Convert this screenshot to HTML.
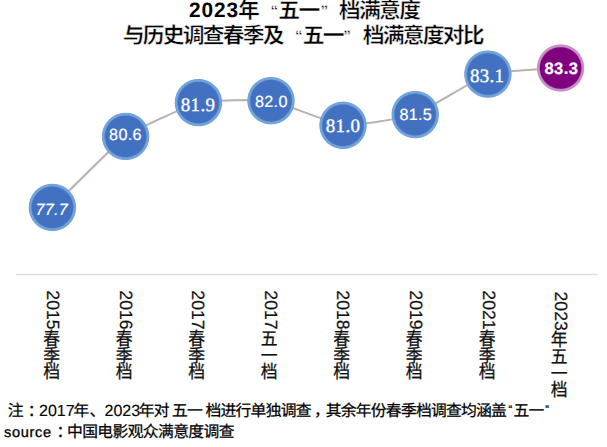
<!DOCTYPE html>
<html lang="zh-CN">
<head>
<meta charset="utf-8">
<title>2023年“五一”档满意度</title>
<style>
html,body{margin:0;padding:0;background:#fff;}
body{width:607px;height:447px;overflow:hidden;position:relative;font-family:"Liberation Sans","Noto Sans CJK SC",sans-serif;}
svg{position:absolute;left:0;top:0;display:block;}
svg text{font-family:"Liberation Sans","Noto Sans CJK SC",sans-serif;text-rendering:geometricPrecision;}
svg text.ser{font-family:"Liberation Serif","Noto Serif CJK SC",serif;}
.sr{position:absolute;left:0;top:0;width:1px;height:1px;overflow:hidden;clip-path:inset(50%);white-space:nowrap;color:transparent;font-size:1px;}
</style>
</head>
<body>
<div class="sr">2023年“五一”档满意度<br>与历史调查春季及“五一”档满意度对比<br>2015春季档<br>2016春季档<br>2017春季档<br>2017五一档<br>2018春季档<br>2019春季档<br>2021春季档<br>2023年五一档<br>注：2017年、2023年对五一档进行单独调查，其余年份春季档调查均涵盖“五一”<br>source：中国电影观众满意度调查</div>
<svg width="607" height="447" viewBox="0 0 607 447">
<defs><radialGradient id="gb" cx="0.5" cy="0.5" r="0.5"><stop offset="0.835" stop-color="#4371C2"/><stop offset="0.888" stop-color="#72A3DA"/><stop offset="0.959" stop-color="#72A3DA"/><stop offset="1" stop-color="#72A3DA" stop-opacity="0"/></radialGradient><radialGradient id="gp" cx="0.5" cy="0.5" r="0.5"><stop offset="0.835" stop-color="#800080"/><stop offset="0.888" stop-color="#C493C4"/><stop offset="0.959" stop-color="#C493C4"/><stop offset="1" stop-color="#C493C4" stop-opacity="0"/></radialGradient></defs>
<line x1="16" y1="274.5" x2="597.4" y2="274.5" stroke="#E0DCDA" stroke-width="1.5"/>
<path d="M52.40 207.40C56.79 203.14 116.84 142.69 125.60 136.40C134.36 130.11 189.68 104.74 198.40 102.60C207.12 100.46 262.32 99.34 271.00 100.70C279.68 102.06 334.35 124.47 343.00 125.30C351.65 126.13 406.51 117.67 415.20 114.60C423.89 111.53 479.18 76.90 487.90 74.10C496.62 71.30 556.24 68.37 560.60 68.00" fill="none" stroke="#B8B2AB" stroke-width="2.0" stroke-linecap="round"/>
<circle cx="52.4" cy="207.4" r="24.2" fill="url(#gb)"/>
<text x="51.75" y="214.70" class="san" font-size="16.2" font-style="italic" letter-spacing="0.3" fill="#fff" stroke="#fff" stroke-width="0.2" text-anchor="middle">77.7</text>
<circle cx="125.6" cy="136.4" r="24.2" fill="url(#gb)"/>
<text x="125.45" y="140.20" class="san" font-size="16.2" letter-spacing="0.3" fill="#fff" stroke="#fff" stroke-width="0.2" text-anchor="middle">80.6</text>
<circle cx="198.4" cy="102.6" r="24.2" fill="url(#gb)"/>
<text x="198.05" y="111.02" class="ser" font-size="19.0" letter-spacing="0.3" fill="#fff" stroke="#fff" stroke-width="0.35" text-anchor="middle">81.9</text>
<circle cx="271.0" cy="100.7" r="24.2" fill="url(#gb)"/>
<text x="271.35" y="106.70" class="san" font-size="16.2" letter-spacing="0.3" fill="#fff" stroke="#fff" stroke-width="0.2" text-anchor="middle">82.0</text>
<circle cx="343.0" cy="125.3" r="24.2" fill="url(#gb)"/>
<text x="343.05" y="132.32" class="ser" font-size="19.0" letter-spacing="0.3" fill="#fff" stroke="#fff" stroke-width="0.35" text-anchor="middle">81.0</text>
<circle cx="415.2" cy="114.6" r="24.2" fill="url(#gb)"/>
<text x="415.75" y="119.70" class="san" font-size="16.2" letter-spacing="0.3" fill="#fff" stroke="#fff" stroke-width="0.2" text-anchor="middle">81.5</text>
<circle cx="487.9" cy="74.1" r="24.2" fill="url(#gb)"/>
<text x="487.15" y="81.62" class="ser" font-size="19.0" letter-spacing="0.3" fill="#fff" stroke="#fff" stroke-width="0.35" text-anchor="middle">83.1</text>
<circle cx="560.6" cy="68.0" r="24.2" fill="url(#gp)"/>
<text x="561.40" y="73.84" class="san" font-size="16.6" font-weight="bold" letter-spacing="0.4" fill="#fff" stroke="#fff" stroke-width="0.2" text-anchor="middle">83.3</text>
<g fill="#000"><text x="189.00" y="17.40" font-size="20.8" font-weight="bold" letter-spacing="0.9">2023</text><text x="238.05" y="18.00" font-size="21.8" font-weight="bold" stroke="#fff" stroke-width="0.45">年</text><text x="270.50" y="15.70" font-size="15.26" font-weight="bold" stroke="#fff" stroke-width="0.45">“</text><text x="278.35 298.50" y="18.00" font-size="21.8" font-weight="bold" stroke="#fff" stroke-width="0.45">五一</text><text x="320.50" y="15.70" font-size="15.26" font-weight="bold" stroke="#fff" stroke-width="0.45">”</text><text x="338.80 358.95 379.10 399.25" y="18.00" font-size="21.8" font-weight="bold" stroke="#fff" stroke-width="0.45">档满意度</text></g>
<g fill="#000"><text x="122.80 142.80 162.80 182.80 202.80 222.80 242.80 262.80" y="43.20" font-size="21.8" font-weight="bold" stroke="#fff" stroke-width="0.45">与历史调查春季及</text><text x="295.10" y="40.90" font-size="15.26" font-weight="bold" stroke="#fff" stroke-width="0.45">“</text><text x="302.80 322.80" y="43.20" font-size="21.8" font-weight="bold" stroke="#fff" stroke-width="0.45">五一</text><text x="343.15" y="40.90" font-size="15.26" font-weight="bold" stroke="#fff" stroke-width="0.45">”</text><text x="362.80 382.80 402.80 422.80 442.80 462.80" y="43.20" font-size="21.8" font-weight="bold" stroke="#fff" stroke-width="0.45">档满意度对比</text></g>
<g fill="#111"><text transform="translate(47.00 290.30) rotate(90)" font-size="17.7" stroke="#111" stroke-width="0.2">2015</text><text transform="translate(43.30 0) scale(0.9175 1)" x="0 0 0" y="344.98 361.68 378.38" font-size="18.31" stroke="#111" stroke-width="0.26">春季档</text></g>
<g fill="#111"><text transform="translate(119.50 290.30) rotate(90)" font-size="17.7" stroke="#111" stroke-width="0.2">2016</text><text transform="translate(115.80 0) scale(0.9175 1)" x="0 0 0" y="344.98 361.68 378.38" font-size="18.31" stroke="#111" stroke-width="0.26">春季档</text></g>
<g fill="#111"><text transform="translate(192.00 290.30) rotate(90)" font-size="17.7" stroke="#111" stroke-width="0.2">2017</text><text transform="translate(188.30 0) scale(0.9175 1)" x="0 0 0" y="344.98 361.68 378.38" font-size="18.31" stroke="#111" stroke-width="0.26">春季档</text></g>
<g fill="#111"><text transform="translate(264.50 290.30) rotate(90)" font-size="17.7" stroke="#111" stroke-width="0.2">2017</text><text transform="translate(260.80 0) scale(0.9175 1)" x="0 0 0" y="344.98 361.68 378.38" font-size="18.31" stroke="#111" stroke-width="0.26">五一档</text></g>
<g fill="#111"><text transform="translate(337.00 290.30) rotate(90)" font-size="17.7" stroke="#111" stroke-width="0.2">2018</text><text transform="translate(333.30 0) scale(0.9175 1)" x="0 0 0" y="344.98 361.68 378.38" font-size="18.31" stroke="#111" stroke-width="0.26">春季档</text></g>
<g fill="#111"><text transform="translate(409.50 290.30) rotate(90)" font-size="17.7" stroke="#111" stroke-width="0.2">2019</text><text transform="translate(405.80 0) scale(0.9175 1)" x="0 0 0" y="344.98 361.68 378.38" font-size="18.31" stroke="#111" stroke-width="0.26">春季档</text></g>
<g fill="#111"><text transform="translate(482.50 290.30) rotate(90)" font-size="17.7" stroke="#111" stroke-width="0.2">2021</text><text transform="translate(478.80 0) scale(0.9175 1)" x="0 0 0" y="344.98 361.68 378.38" font-size="18.31" stroke="#111" stroke-width="0.26">春季档</text></g>
<g fill="#111"><text transform="translate(554.50 291.50) rotate(90)" font-size="17.7" stroke="#111" stroke-width="0.2">2023</text><text transform="translate(550.80 0) scale(0.9175 1)" x="0 0 0 0" y="346.18 362.88 379.58 396.28" font-size="18.31" stroke="#111" stroke-width="0.26">年五一档</text></g>
<g fill="#000"><text x="7.71 27.64" y="415.95" font-size="15.8" stroke="#000" stroke-width="0.25">注：</text><text x="39.00" y="416.45" font-size="16" stroke="#000" stroke-width="0.1">2017</text><text x="73.52 89.55" y="415.95" font-size="15.8" stroke="#000" stroke-width="0.25">年、</text><text x="104.50" y="416.45" font-size="16" stroke="#000" stroke-width="0.1">2023</text><text x="138.72 153.75 171.97 187.00 205.52 220.55 235.58 250.61 265.63 280.66 295.69 313.92 325.75 340.78 355.81 370.84 385.87 400.90 415.93 430.96 445.99 461.02 476.05 491.08" y="415.95" font-size="15.8" stroke="#000" stroke-width="0.25">年对五一档进行单独调查，其余年份春季档调查均涵盖</text><text x="508.60" y="413.35" font-size="11" stroke="#000" stroke-width="0.25">“</text><text x="513.51 528.54" y="415.95" font-size="15.8" stroke="#000" stroke-width="0.25">五一</text><text x="545.30" y="413.35" font-size="11" stroke="#000" stroke-width="0.25">”</text></g>
<g fill="#000"><text x="3.90" y="437.20" font-size="14.6" letter-spacing="0.7" stroke="#000" stroke-width="0.3">source</text><text x="56.48 66.98 82.16 97.33 112.50 127.67 142.84 158.00 173.17 188.34 203.51 218.68" y="437.20" font-size="15.8" stroke="#000" stroke-width="0.25">：中国电影观众满意度调查</text></g>
</svg>
</body>
</html>
